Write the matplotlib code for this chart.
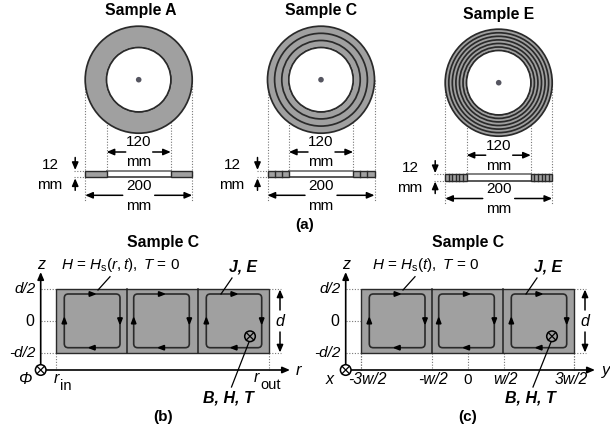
import numpy as np
import matplotlib
matplotlib.use('Agg')
import matplotlib.pyplot as plt
from matplotlib.patches import Circle, Rectangle, FancyBboxPatch

plt.rcParams['font.family'] = ['Liberation Sans', 'DejaVu Sans']
plt.rcParams['mathtext.fontset'] = 'custom'
plt.rcParams['mathtext.rm'] = 'Liberation Sans'
plt.rcParams['mathtext.it'] = 'Liberation Sans:italic'
plt.rcParams['mathtext.bf'] = 'Liberation Sans:bold'

# samples (radii in mm)
sample_names = ['Sample A', 'Sample C', 'Sample E']
radii_A = [60, 100]
radii_C = [60, 73.3, 86.7, 100]
radii_E = [60, 66.7, 73.3, 80, 86.7, 93.3, 100]
inner_dim = ['120', 'mm']
outer_dim = ['200', 'mm']
thick_dim = ['12', 'mm']

# cross section panels
panel_titles = ['Sample C', 'Sample C']
z_ticks = ['d/2', '0', '-d/2']
y_ticks = ['-3w/2', '-w/2', '0', 'w/2', '3w/2']

GRAY = '#a0a0a0'
DARK = '#2a2a2a'
DOT = '#777777'
FS = 11

fig = plt.figure(figsize=(6.1, 4.3), dpi=100)
ax = fig.add_axes([0, 0, 1, 1])
ax.set_xlim(0, 610)
ax.set_ylim(430, 0)
ax.axis('off')


def txt(x, y, s, **kw):
    kw.setdefault('fontsize', FS)
    kw.setdefault('ha', 'center')
    kw.setdefault('va', 'center')
    ax.text(x, y, s, color='black', **kw)


def dotted(x0, y0, x1, y1):
    ax.plot([x0, x1], [y0, y1], color=DOT, lw=0.8, ls=(0, (1, 1.5)), zorder=1)


def arrow(x0, y0, x1, y1, lw=1.1, ms=7):
    ax.annotate('', xy=(x1, y1), xytext=(x0, y0),
                arrowprops=dict(arrowstyle='-|>,head_width=0.18,head_length=0.42', color='black',
                                lw=lw, shrinkA=0, shrinkB=0, mutation_scale=ms * 1.5), zorder=6)


def otimes(x, y, r=5.3):
    ax.add_patch(Circle((x, y), r, fc='none', ec='black', lw=1.1, zorder=7))
    d = r * 0.7
    ax.plot([x - d, x + d], [y - d, y + d], color='black', lw=0.9, zorder=7)
    ax.plot([x - d, x + d], [y + d, y - d], color='black', lw=0.9, zorder=7)


def sample(cx, cy, name, radii, sec_y0, title_x, title_y):
    mm = 53.5 / 100
    txt(title_x, title_y, name, fontweight='bold', fontsize=FS + 0.3)
    ro, ri = radii[-1] * mm, radii[0] * mm
    # rings seen from above
    ax.add_patch(Circle((cx, cy), ro, fc=GRAY, ec='none', zorder=2))
    for r in radii[::-1]:
        ax.add_patch(Circle((cx, cy), r * mm, fc='none', ec=DARK, lw=1.25, zorder=3))
    ax.add_patch(Circle((cx, cy), ri, fc='white', ec=DARK, lw=1.1, zorder=3))
    ax.add_patch(Circle((cx, cy), 2.8, fc='#555560', ec='none', zorder=4))

    # section
    h = 6.8
    sec_y1 = sec_y0 + h
    ax.add_patch(Rectangle((cx - ro, sec_y0), 2 * ro, h, fc='white', ec='none', zorder=3))
    ax.plot([cx - ri, cx + ri], [sec_y0, sec_y0], color='#808080', lw=1.4, zorder=3)
    ax.plot([cx - ri, cx + ri], [sec_y1, sec_y1], color=DARK, lw=1.1, zorder=3)
    for sign in (-1, 1):
        x0 = cx + sign * ri
        ax.add_patch(Rectangle((min(x0, x0 + sign * (ro - ri)), sec_y0), ro - ri, h,
                               fc=GRAY, ec=DARK, lw=1.0, zorder=4))
        for r in radii[1:-1]:
            xr = cx + sign * r * mm
            ax.plot([xr, xr], [sec_y0, sec_y1], color=DARK, lw=1.0, zorder=5)

    # drop lines
    for x in (cx - ro, cx + ro):
        dotted(x, cy, x, sec_y1 + 24)
    for x in (cx - ri, cx + ri):
        dotted(x, cy + 14, x, sec_y0)

    # dimensions
    y120 = sec_y0 - 18.5
    txt(cx, y120 - 9.5, inner_dim[0])
    txt(cx, y120 + 10.5, inner_dim[1])
    arrow(cx - 13, y120, cx - ri, y120)
    arrow(cx + 14, y120, cx + ri, y120)
    y200 = sec_y1 + 18
    txt(cx, y200 - 9.5, outer_dim[0])
    txt(cx, y200 + 10.5, outer_dim[1])
    arrow(cx - 16, y200, cx - ro, y200)
    arrow(cx + 16, y200, cx + ro, y200)

    # thickness
    xt = cx - ro - 10
    arrow(xt, sec_y0 - 13, xt, sec_y0 - 0.5)
    arrow(xt, sec_y1 + 13, xt, sec_y1 + 1)
    dotted(xt - 1, sec_y0, cx - ro, sec_y0)
    dotted(xt - 1, sec_y1, cx - ro, sec_y1)
    txt(xt - 25, sec_y0 - 5.5, thick_dim[0])
    txt(xt - 26, sec_y1 + 8, thick_dim[1])


sample(138.7, 79.7, sample_names[0], radii_A, 170.5, 141, 10.7)
sample(321, 79.7, sample_names[1], radii_C, 170.5, 321, 10.7)
sample(498.7, 82.7, sample_names[2], radii_E, 173.7, 498.7, 14)
txt(305, 225, '(a)', fontweight='bold', fontsize=FS)


def loop(x0, x1, y0=294, y1=347.7):
    ax.add_patch(FancyBboxPatch((x0 + 4, y0 + 4), x1 - x0 - 8, y1 - y0 - 8,
                                boxstyle='round,pad=4,rounding_size=4',
                                fc='none', ec=DARK, lw=1.2, zorder=4))
    xm = (x0 + x1) / 2
    ym = (y0 + y1) / 2
    s = 3
    w = 2.3
    ax.fill([xm - s, xm + s, xm - s], [y0 - w, y0, y0 + w], color='black', zorder=5)
    ax.fill([xm + s, xm - s, xm + s], [y1 - w, y1, y1 + w], color='black', zorder=5)
    ax.fill([x0 - w, x0, x0 + w], [ym + s, ym - s, ym + s], color='black', zorder=5)
    ax.fill([x1 - w, x1, x1 + w], [ym - s, ym + s, ym - s], color='black', zorder=5)


def panel(off, title, field, xvar, xvar_x, sym, bt_x, b_x1):
    left = 56 + off
    right = 269 + off
    top = 289
    bot = 353
    axis_x = 40.7 + off
    axis_y = 370
    d1 = 127 + off
    d2 = 198.3 + off
    mid = (top + bot) / 2

    txt(off + 162.7, 243, title, fontweight='bold', fontsize=FS + 0.3)
    ax.add_patch(Rectangle((left, top), right - left, bot - top, fc=GRAY, ec=DARK, lw=1.0, zorder=2))
    ax.plot([d1, d1], [top, bot], color='#222222', lw=1.1, zorder=3)
    ax.plot([d2, d2], [top, bot], color='#222222', lw=1.1, zorder=3)
    loop(64.3 + off, 120 + off)
    loop(133.7 + off, 189.3 + off)
    loop(206.3 + off, 261.7 + off)

    # axes
    arrow(axis_x, axis_y, axis_x, 272, lw=1.2)
    arrow(axis_x, axis_y, right + 21, axis_y, lw=1.2)
    ax.add_patch(Circle((axis_x, axis_y), 5.2, fc='white', ec='none', zorder=6))
    otimes(axis_x, axis_y)

    for y, lab in zip([top, mid, bot], z_ticks):
        dotted(axis_x, y, left, y)
        if lab == '0':
            txt(axis_x - 11, y, lab, fontsize=FS + 0.5, ha='center')
        else:
            txt(axis_x - 5, y, lab, style='italic', ha='right')
    dotted(right, top, right + 12, top)
    dotted(right, bot, right + 12, bot)
    dotted(left, bot, left, axis_y)
    dotted(right, bot, right, axis_y)

    # d dimension
    xd = 280 + off
    arrow(xd, mid - 11, xd, top + 0.5)
    arrow(xd, mid + 11, xd, bot - 0.5)
    txt(xd, mid + 1, 'd', style='italic', fontsize=FS + 0.5)

    # axis names
    txt(axis_x + 0.5, 264.5, 'z', style='italic', fontsize=FS + 0.5)
    txt(xvar_x, axis_y + 0.5, xvar, style='italic', fontsize=FS + 1)
    txt(axis_x - 16, 379.5, sym, style='italic', fontsize=FS + 0.5)

    # field text
    txt(off + 120.3, 265.5, field, fontsize=FS)
    ax.plot([98 + off, 110 + off], [290, 276.7], color='black', lw=0.9, zorder=6)
    txt(off + 243, 267, 'J, E', fontweight='bold', style='italic', fontsize=FS + 0.3)
    ax.plot([221 + off, 232 + off], [294, 278], color='black', lw=0.9, zorder=6)
    otimes(bt_x, 336.3)
    ax.plot([bt_x - 1, b_x1], [342, 387], color='black', lw=0.9, zorder=6)
    txt(b_x1 - 3, 398, 'B, H, T', fontweight='bold', style='italic', fontsize=FS + 0.5)


panel(0, panel_titles[0], r'$\mathit{H}$ = $\mathit{H}_{\mathrm{s}}(\mathit{r,t}),$ $\mathit{T}$ = 0',
      'r', 298, '\u03a6', 250, 231.5)
panel(305, panel_titles[1], r'$\mathit{H}$ = $\mathit{H}_{\mathrm{s}}(\mathit{t}),$ $\mathit{T}$ = 0',
      'y', 606, 'x', 552, 533)

# r labels
txt(56.5, 378.5, 'r', style='italic', fontsize=FS + 0.5)
txt(65.5, 385.5, 'in', fontsize=FS - 0.5)
txt(256, 378, 'r', style='italic', fontsize=FS + 0.5)
txt(270.5, 385, 'out', fontsize=FS - 0.5)

# y labels of panel c
y_tick_x = [361, 432, 468, 503.5, 574]
y_label_x = [367.5, 432.8, 467.7, 505.5, 571]
for x, xl, lab in zip(y_tick_x, y_label_x, y_ticks):
    ax.plot([x, x], [353, 370], color=DOT, lw=0.8, ls=(0, (1, 1.5)), zorder=1)
    if lab == '0':
        txt(xl, 380, lab)
    else:
        txt(xl, 380, lab, style='italic', fontsize=FS + 0.3)

txt(162.7, 416.7, '(b)', fontweight='bold', fontsize=FS)
txt(467.7, 416.7, '(c)', fontweight='bold', fontsize=FS)

fig.savefig('out.png', dpi=100)
